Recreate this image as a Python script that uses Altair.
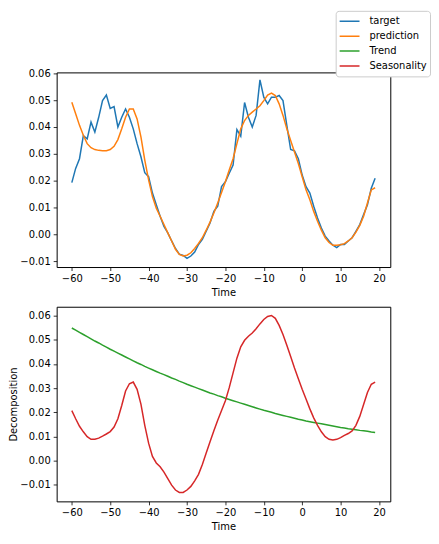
import altair as alt
import pandas as pd

time = list(range(-60, 20))

target = [0.0193, 0.0246, 0.0282, 0.0368, 0.0356, 0.0418, 0.0381, 0.0436, 0.0498, 0.0519,
          0.0469, 0.0476, 0.0400, 0.0436, 0.0467, 0.0436, 0.0393, 0.0338, 0.0289, 0.0230,
          0.0215, 0.0154, 0.0111, 0.0068, 0.0030, 0.0006, -0.0024, -0.0052, -0.0073, -0.0078,
          -0.0089, -0.0080, -0.0065, -0.0037, -0.0018, 0.0012, 0.0043, 0.0086, 0.0105, 0.0178,
          0.0196, 0.0228, 0.0258, 0.0390, 0.0366, 0.0491, 0.0436, 0.0400, 0.0443, 0.0575,
          0.0511, 0.0486, 0.0511, 0.0511, 0.0517, 0.0498, 0.0406, 0.0316, 0.0311, 0.0282,
          0.0221, 0.0178, 0.0154, 0.0105, 0.0061, 0.0024, -0.0006, -0.0024, -0.0040, -0.0049,
          -0.0037, -0.0037, -0.0024, -0.0012, 0.0012, 0.0037, 0.0074, 0.0111, 0.0172, 0.0209]

prediction = [0.0492, 0.0449, 0.0406, 0.0369, 0.0338, 0.0323, 0.0316, 0.0313, 0.0312, 0.0312,
              0.0316, 0.0328, 0.0353, 0.0393, 0.0436, 0.0467, 0.0467, 0.0430, 0.0363, 0.0277,
              0.0203, 0.0141, 0.0098, 0.0068, 0.0037, 0.0006, -0.0024, -0.0055, -0.0074, -0.0080,
              -0.0077, -0.0068, -0.0052, -0.0033, -0.0012, 0.0016, 0.0046, 0.0080, 0.0117, 0.0156,
              0.0196, 0.0240, 0.0282, 0.0338, 0.0393, 0.0424, 0.0443, 0.0455, 0.0467, 0.0479,
              0.0498, 0.0519, 0.0526, 0.0517, 0.0486, 0.0443, 0.0393, 0.0350, 0.0307, 0.0264,
              0.0215, 0.0166, 0.0129, 0.0086, 0.0049, 0.0016, -0.0012, -0.0030, -0.0040, -0.0040,
              -0.0038, -0.0034, -0.0024, -0.0012, 0.0009, 0.0034, 0.0068, 0.0117, 0.0166, 0.0174]

trend = [0.0549, 0.0540, 0.0531, 0.0522, 0.0513, 0.0504, 0.0495, 0.0487, 0.0478, 0.0470,
         0.0461, 0.0453, 0.0445, 0.0437, 0.0429, 0.0421, 0.0413, 0.0405, 0.0398, 0.0390,
         0.0383, 0.0376, 0.0369, 0.0362, 0.0356, 0.0349, 0.0342, 0.0336, 0.0329, 0.0323,
         0.0316, 0.0310, 0.0304, 0.0298, 0.0292, 0.0286, 0.0280, 0.0275, 0.0269, 0.0264,
         0.0258, 0.0253, 0.0248, 0.0243, 0.0238, 0.0233, 0.0228, 0.0223, 0.0218, 0.0213,
         0.0208, 0.0204, 0.0200, 0.0195, 0.0191, 0.0187, 0.0183, 0.0179, 0.0175, 0.0171,
         0.0168, 0.0164, 0.0161, 0.0158, 0.0155, 0.0152, 0.0149, 0.0146, 0.0143, 0.0140,
         0.0137, 0.0135, 0.0132, 0.0130, 0.0128, 0.0125, 0.0123, 0.0121, 0.0118, 0.0116]

seasonality = [0.0207, 0.0173, 0.0142, 0.0119, 0.0099, 0.0088, 0.0088, 0.0093, 0.0101, 0.0110,
               0.0120, 0.0139, 0.0173, 0.0228, 0.0288, 0.0318, 0.0325, 0.0295, 0.0234, 0.0146,
               0.0072, 0.0017, -0.0010, -0.0026, -0.0048, -0.0075, -0.0102, -0.0122, -0.0132, -0.0132,
               -0.0122, -0.0107, -0.0084, -0.0057, -0.0016, 0.0031, 0.0078, 0.0123, 0.0167, 0.0207,
               0.0248, 0.0302, 0.0363, 0.0424, 0.0471, 0.0498, 0.0515, 0.0528, 0.0546, 0.0566,
               0.0584, 0.0597, 0.0601, 0.0589, 0.0560, 0.0522, 0.0478, 0.0431, 0.0383, 0.0339,
               0.0295, 0.0255, 0.0214, 0.0177, 0.0146, 0.0119, 0.0099, 0.0088, 0.0085, 0.0088,
               0.0095, 0.0104, 0.0112, 0.0123, 0.0146, 0.0183, 0.0232, 0.0282, 0.0316, 0.0325]

series_names = ["target", "prediction", "Trend", "Seasonality"]
series_colors = ["#1f77b4", "#ff7f0e", "#2ca02c", "#d62728"]

x_ticks = [-60, -50, -40, -30, -20, -10, 0, 10, 20]
y_ticks = [-0.01, 0.0, 0.01, 0.02, 0.03, 0.04, 0.05, 0.06]

df = pd.DataFrame({
    "Time": time * 4,
    "value": target + prediction + trend + seasonality,
    "series": [s for s in series_names for _ in time],
})

color = alt.Color(
    "series:N",
    scale=alt.Scale(domain=series_names, range=series_colors),
    legend=alt.Legend(
        title=None, orient="none", legendX=281, legendY=-62,
        symbolType="stroke", symbolStrokeWidth=1.5, symbolSize=400,
        labelFont="DejaVu Sans", labelFontSize=10, labelColor="black",
        strokeColor="#cccccc", fillColor="white", padding=3, cornerRadius=3,
        clipHeight=15, rowPadding=0, labelOffset=9,
    ),
)

x_enc = alt.X(
    "Time:Q",
    scale=alt.Scale(domain=[-63.95, 22.95], nice=False, zero=False),
    axis=alt.Axis(values=x_ticks, title="Time", format="d", titlePadding=4),
)


def panel(names, ydomain, ytitle):
    layers = []
    for n in names:
        if ytitle:
            y_axis = alt.Axis(values=y_ticks, format=".2f", title=ytitle, titlePadding=1)
        else:
            y_axis = alt.Axis(values=y_ticks, format=".2f", title=None)
        layers.append(
            alt.Chart(df).transform_filter(alt.datum.series == n)
            .mark_line(strokeWidth=1.5)
            .encode(
                x=x_enc,
                y=alt.Y("value:Q", scale=alt.Scale(domain=ydomain, nice=False, zero=False), axis=y_axis),
                color=color,
            )
        )
    return alt.layer(*layers).properties(width=336, height=196)


top = panel(["target", "prediction"], [-0.0121, 0.0603], None)
bottom = panel(["Trend", "Seasonality"], [-0.0169, 0.0637], "Decomposition")

chart = (
    alt.vconcat(top, bottom, spacing=8)
    .properties(padding={"left": 0, "top": 0, "right": 0, "bottom": 0}, background="white")
    .configure_view(stroke="black", strokeWidth=1)
    .configure_axis(
        domain=False, grid=False, tickColor="black", tickSize=3.5, tickWidth=0.8,
        labelFont="DejaVu Sans", labelFontSize=10, labelColor="black", labelPadding=3,
        titleFont="DejaVu Sans", titleFontSize=10, titleFontWeight="normal", titleColor="black",
        titlePadding=2,
    )
)

chart.save("out.html", embed_options={"renderer": "svg", "actions": False})
